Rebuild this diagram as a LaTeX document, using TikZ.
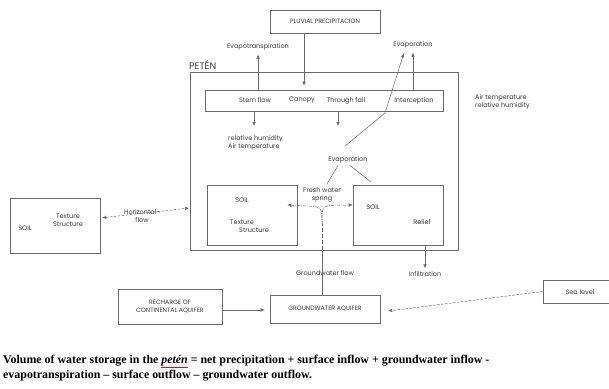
\documentclass[tikz,border=0pt]{standalone}
\usepackage{fontspec}
\setmainfont{Liberation Serif}
\setsansfont{Poppins}
\usetikzlibrary{arrows.meta,positioning,calc}
\definecolor{ink}{HTML}{3A3A3A}
\definecolor{rule}{HTML}{6A6A6A}

\begin{document}
\begin{tikzpicture}[x=1pt,y=-1pt,
  >={Latex[length=4pt,width=3.5pt]},
  bx/.style={draw=rule,line width=0.6pt,inner sep=2pt,text=ink,align=center,
             font=\sffamily\fontsize{6.2}{7.5}\selectfont},
  t/.style={inner sep=1pt,text=ink,align=center,font=\sffamily\fontsize{6.5}{8}\selectfont},
  a/.style={rule,line width=0.5pt,->,shorten >=1pt},
  ln/.style={rule,line width=0.5pt},
  dsh/.style={rule,line width=0.5pt,dash pattern=on 2.5pt off 1.5pt},
  dd/.style={rule,line width=0.5pt,dash pattern=on 3pt off 1.2pt on 0.6pt off 1.2pt}]
\fill[white] (0,0) rectangle (609,388);
\clip (0,0) rectangle (609,388);
% top of the basin
\node[bx,minimum width=110pt,minimum height=23pt] (pluv) at (325,21.5) {PLUVIAL PRECIPITACION};
\node[t] (evt) at (258,47) {Evapotranspiration};
\node[t] (evp) at (413,45) {Evaporation};
\node[bx,minimum width=268pt,minimum height=178pt] (peten) at (324,161) {};
\node[t,anchor=south west,inner sep=0pt,font=\sffamily\fontsize{9.5}{10}\selectfont] (petl) at (189,70) {PETÉN};
\node[bx,minimum width=238pt,minimum height=21pt] (canopy) at (324,100.5) {};
\node[t] (stem) at (255,100.5) {Stem flow};
\node[t] (cano) at (302,100.5) {Canopy};
\node[t] (thru) at (346,100.5) {Through fall};
\node[t] (icpt) at (414,100.5) {Interception};
\node[t,align=left,anchor=west] (rh) at (227,143) {relative humidity\\Air temperature};
\node[t,align=left,anchor=west] (air) at (474,102) {Air temperature\\relative humidity};
\node[t] (evp2) at (348,160) {Evaporation};
% soils
\node[bx,minimum width=90pt,minimum height=60pt] (soila) at (252,215) {};
\node[t] (soila1) at (242,200) {SOIL};
\node[t,align=left,anchor=west] (soila2) at (229,226) {Texture\\\hspace*{9pt}Structure};
\node[bx,minimum width=90pt,minimum height=60pt] (soilb) at (398,215) {};
\node[t] (soilb1) at (373,207) {SOIL};
\node[t] (soilb2) at (422,222) {Relief};
\node[t] (spring) at (322,195) {Fresh water\\spring};
\node[bx,minimum width=90pt,minimum height=55pt] (soilc) at (55,225.5) {};
\node[t] (soilc1) at (25,228) {SOIL};
\node[t] (soilc2) at (68,220) {Texture\\Structure};
\node[t] (hfl) at (142,216) {Horizontal-\\flow};
% below the basin
\node[t] (gwf) at (325,273) {Groundwater flow};
\node[t] (inf) at (425,274) {Infiltration};
\node[bx,minimum width=104pt,minimum height=35pt] (rech) at (170,306.5) {RECHARGE OF\\CONTINENTAL AQUIFER};
\node[bx,minimum width=110pt,minimum height=28pt] (aq) at (325,309) {GROUNDWATER AQUIFER};
\node[bx,minimum width=80pt,minimum height=23pt] (sea) at (583,291.5) {};
\node[t] (seal) at (580,292) {Sea level};
% flows
\draw[a,shorten >=4pt] ([xshift=-21pt]pluv.south) -- ([xshift=-21pt]pluv.south |- canopy.north);
\draw[a,shorten >=3pt] (canopy.north -| evt) -- (evt.south);
\draw[a,shorten >=3pt] (canopy.north -| evp) -- (evp.south);
\coordinate (sf) at (254,127);
\coordinate (tf) at (338,127);
\draw[a] (canopy.south -| sf) -- (sf);
\draw[a] (canopy.south -| tf) -- (tf);
\coordinate (e1) at (345,146);
\coordinate (e2) at (385,113);
\draw[a,shorten >=4pt] (e1) -- (e2) -- ([xshift=-8pt]evp.south);
\coordinate (e3) at (327,184);
\coordinate (e4) at (371,182);
\draw[ln] ([xshift=-10pt,yshift=-1pt]evp2.south) -- (e3);
\draw[ln] ([xshift=2pt,yshift=-1pt]evp2.south) -- (e4);
% spring and groundwater
\coordinate (gw) at (322,224);
\draw[ln] ([xshift=-3pt]aq.north) -- ([xshift=-3pt]aq.north |- peten.south);
\draw[dd] ([xshift=-3pt]aq.north |- peten.south) -- (gw);
\draw[dd,->] (gw) .. controls (322,207) .. (308,206) -- ([xshift=-10pt,yshift=10pt]soila.east);
\draw[dd,->] (gw) .. controls (322,206) .. (336,205) -- ([yshift=10pt]soilb.west);
\draw[a,shorten >=2pt] ([xshift=27pt]soilb.south) -- ([xshift=27pt]soilb.south |- inf.north);
\coordinate (hf) at (189,208);
\draw[dsh,<->,shorten <=2pt] ([yshift=7.5pt]soilc.east) -- (hf);
\draw[a,shorten >=5pt] ([yshift=-3.5pt]rech.east) -- ([yshift=-1pt]aq.west);
\draw[dsh,->,shorten >=8pt] (sea.west) -- ([yshift=-3pt]aq.east);
% balance
\node[anchor=north west,inner sep=0pt,align=left,font=\bfseries\fontsize{11.9}{15}\selectfont] (eq) at (3,355)
  {Volume of water storage in the {\color{red}\underline{\color{black}\textit{petén}}} = net precipitation + surface inflow + groundwater inflow -\\
   evapotranspiration -- surface outflow -- groundwater outflow.};
\end{tikzpicture}
\end{document}
